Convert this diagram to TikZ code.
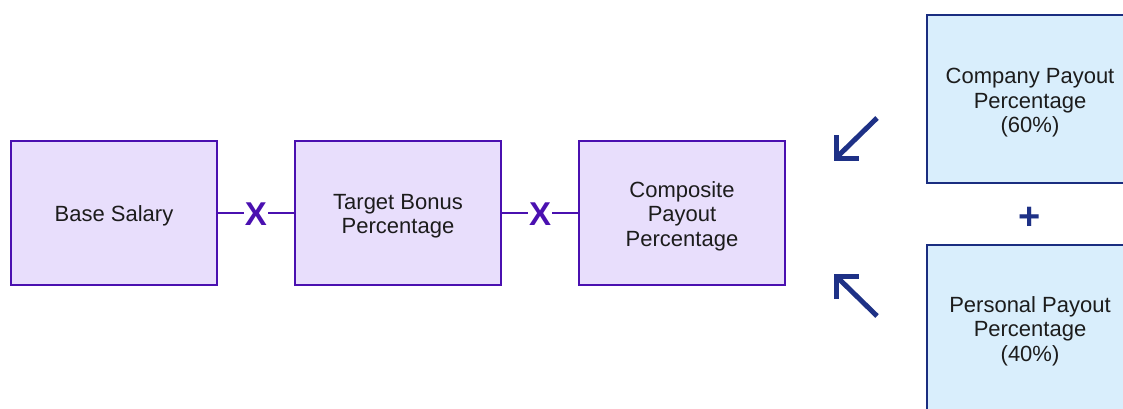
\documentclass[tikz,border=0pt]{standalone}
\usepackage{fontspec}
\setmainfont{Liberation Sans}
\definecolor{pfill}{HTML}{E8DEFC}
\definecolor{pdraw}{HTML}{4A10B0}
\definecolor{bfill}{HTML}{D9EEFC}
\definecolor{bdraw}{HTML}{1A2D80}
\definecolor{arr}{HTML}{1E3186}
\definecolor{txt}{HTML}{1C1C1C}
\tikzset{
  pbox/.style={draw=pdraw, fill=pfill, line width=2pt, minimum width=206pt, minimum height=144pt, inner sep=0pt},
  bbox/.style={draw=bdraw, fill=bfill, line width=2pt, minimum width=206pt, minimum height=168pt, inner sep=0pt},
  lbl/.style={inner sep=0pt, align=center, text=txt, font=\fontsize{22}{24.5}\selectfont},
  opx/.style={text=pdraw, font=\fontsize{33}{33}\selectfont\bfseries, inner sep=1pt},
  opp/.style={text=arr, font=\fontsize{38}{38}\selectfont\bfseries, inner sep=1pt},
  conn/.style={draw=pdraw, line width=2pt},
  fat/.style={draw=arr, line width=5pt, miter limit=10}
}
\begin{document}
\begin{tikzpicture}[x=1pt,y=-1pt]
\useasboundingbox (0,0) rectangle (1123,408);
\node[pbox] (base) at (114,213) {};
\node[pbox] (tbp) at (398,213) {};
\node[pbox] (cpp) at (682,213) {};
\node[lbl] (baset) at ([yshift=-3]base.center) {Base Salary};
\node[lbl] (tbpt) at ([yshift=-3]tbp.center) {Target Bonus\\Percentage};
\node[lbl] (cppt) at ([yshift=-3]cpp.center) {Composite\\Payout\\Percentage};
\node[opx] (x1) at (256,214) {X};
\node[opx] (x2) at (540,214) {X};
\draw[conn] (base.east) -- (x1.west |- base.east);
\draw[conn] (x1.east |- tbp.west) -- (tbp.west);
\draw[conn] (tbp.east) -- (x2.west |- tbp.east);
\draw[conn] (x2.east |- cpp.west) -- (cpp.west);
\node[bbox] (comp) at (1030,99) {};
\node[bbox] (pers) at (1030,329) {};
\node[lbl] (compt) at ([yshift=-4]comp.center) {Company Payout\\Percentage\\(60\%)};
\node[lbl] (perst) at ([yshift=-2]pers.center) {Personal Payout\\Percentage\\(40\%)};
\node[opp] (plus) at (1030,218) {+};
% arrows
\coordinate (a1s) at (877,118);
\coordinate (a1t) at (836,158);
\draw[fat] (a1s) -- (a1t);
\draw[fat] ([yshift=23]a1t) -- (a1t) -- ([xshift=23]a1t);
\coordinate (a2s) at (877,316);
\coordinate (a2t) at (836,276);
\draw[fat] (a2s) -- (a2t);
\draw[fat] ([yshift=-23]a2t) -- (a2t) -- ([xshift=23]a2t);
\end{tikzpicture}
\end{document}
